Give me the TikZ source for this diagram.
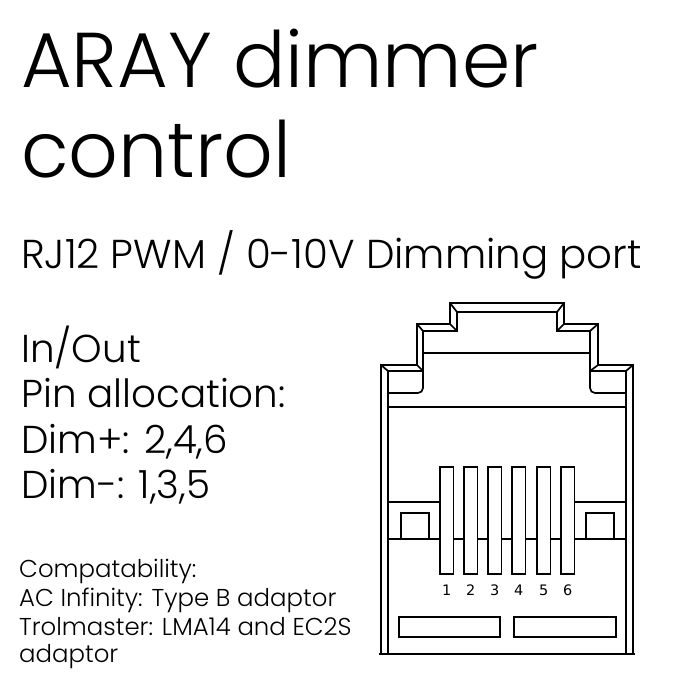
\documentclass[tikz,border=0pt]{standalone}
\usepackage{fontspec}
\setmainfont{Poppins Light}
\newfontfamily\pinfont{DejaVu Sans}
\usepackage{tikz}
\usetikzlibrary{positioning}

\tikzset{
    txt/.style={anchor=base west, inner sep=0pt},
    bigtxt/.style={txt, font=\fontsize{78}{78}\selectfont},
    porttxt/.style={txt, font=\fontsize{40.5}{40.5}\selectfont},
    midtxt/.style={txt, font=\fontsize{39}{39}\selectfont},
    smalltxt/.style={txt, font=\fontsize{24.5}{24.5}\selectfont},
    pinnum/.style={anchor=base, inner sep=0pt, font=\pinfont\fontsize{14.5}{14.5}\selectfont},
    jack/.style={line width=1.7bp, line join=miter},
    pinbox/.style={jack, fill=white}
}

\begin{document}
\begin{tikzpicture}[x=1bp, y=-1bp]
    \useasboundingbox (0,0) rectangle (700,700);

    % Titles
    \node[bigtxt] (title) at (21,88) {ARAY dimmer};
    \node[bigtxt] (titletwo) at (21,177) {control};
    \node[porttxt] (port) at (21,268) {RJ12 PWM / 0-10V Dimming port};

    % Pin allocation
    \node[midtxt] (inout) at (21,362) {In/Out};
    \node[midtxt] (alloc) at (21,407) {Pin allocation:};
    \node[midtxt] (dimplus) at (21,453) {Dim+: 2,4,6};
    \node[midtxt] (dimminus) at (21,498) {Dim-: 1,3,5};

    % Compatibility notes
    \node[smalltxt] (compat) at (19,577) {Compatability:};
    \node[smalltxt] (acinf) at (19,606) {AC Infinity: Type B adaptor};
    \node[smalltxt] (trol) at (19,635) {Trolmaster: LMA14 and EC2S};
    \node[smalltxt] (adapt) at (19,662) {adaptor};

    % RJ12 jack - outer outline
    \draw[jack] (381,654) -- (381,365) -- (417,365) -- (417,324) -- (450,324) -- (450,303)
        -- (564,303) -- (564,324) -- (598,324) -- (598,365) -- (633,365) -- (633,654);
    % inner outline
    \draw[jack] (388,654) -- (388,371) -- (423,371) -- (423,331) -- (457,331) -- (457,312)
        -- (557,312) -- (557,331) -- (590,331) -- (590,371) -- (626,371) -- (626,654);
    % bevel corners
    \foreach \ax/\ay/\bx/\by in {381/365/388/371, 417/365/423/371, 417/324/423/331,
        450/324/457/331, 450/303/457/312, 564/303/557/312, 564/324/557/331,
        598/324/590/331, 598/365/590/371, 633/365/626/371} {
        \draw[jack] (\ax,\ay) -- (\bx,\by);
    }
    \draw[jack] (423,353) -- (590,353);
    \draw[jack, rounded corners=5bp] (388,393) -- (423,393) -- (423,371);
    \draw[jack, rounded corners=5bp] (626,393) -- (590,393) -- (590,371);
    \draw[jack] (388,407) -- (626,407);

    % Latch area
    \draw[jack] (388,502) -- (440,502);
    \draw[jack] (574,502) -- (626,502);
    \draw[jack] (388,539) -- (626,539);
    \draw[jack] (401,539) -- (401,513) -- (429,513) -- (429,539);
    \draw[jack] (586,539) -- (586,513) -- (614,513) -- (614,539);

    % Pins
    \foreach \x/\n in {440/1, 464/2, 488/3, 512/4, 537/5, 561/6} {
        \draw[pinbox] (\x,467) rectangle ++(13.5,107);
        \node[pinnum] (num\n) at (\x+6.75,595) {\n};
    }

    % Bottom slots
    \draw[jack] (399,617) rectangle (500,637);
    \draw[jack] (514,617) rectangle (616,637);
    \draw[jack] (379,654) -- (635,654);
\end{tikzpicture}
\end{document}
